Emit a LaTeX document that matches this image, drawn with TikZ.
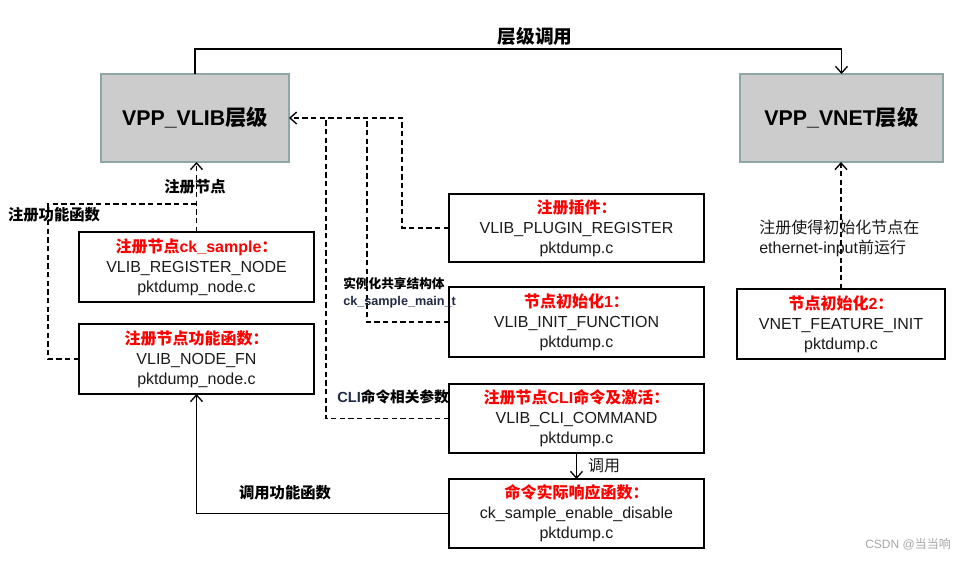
\documentclass[tikz,border=0pt]{standalone}
\usepackage{fontspec}
\setmainfont{Liberation Sans}
\newfontfamily\cjk{Noto Sans CJK SC}
\newcommand\zh[1]{{\cjk #1}}
\usetikzlibrary{arrows.meta}
\definecolor{boxgray}{HTML}{CCCCCC}
\definecolor{boxedge}{HTML}{8FA6A6}
\definecolor{txt}{HTML}{1A1A1A}
\definecolor{navy}{HTML}{1F2A44}
\begin{document}
\begin{tikzpicture}[x=0.75pt,y=-0.75pt,
  layer/.style={draw=boxedge,fill=boxgray,line width=1.5pt,inner sep=0pt,outer sep=0pt,
     font=\fontsize{16}{18}\selectfont\bfseries,text=black},
  info/.style={draw=black,line width=1.6pt,inner sep=0pt,outer sep=0pt,align=center,
     font=\fontsize{12}{15}\selectfont,text=txt},
  dsh/.style={dashed,dash pattern=on 4pt off 2.5pt,line width=1.25pt},
  sol/.style={line width=1.1pt},
  tip/.style={-{Straight Barb[length=5pt,width=9pt,line width=1pt]}},
  lbl/.style={font=\fontsize{11.5}{14}\selectfont\bfseries,inner sep=0pt},
]
\useasboundingbox (0,0) rectangle (973,561);
\newcommand\red[1]{{\color{red}\bfseries #1}}

% layer boxes
\node[layer,minimum width=188*0.75pt,minimum height=88*0.75pt] (vlib) at (195,118) {VPP\_VLIB\zh{层级}};
\node[layer,minimum width=203*0.75pt,minimum height=88*0.75pt] (vnet) at (841.5,118) {VPP\_VNET\zh{层级}};

% info boxes
\node[info,minimum width=235*0.75pt,minimum height=70*0.75pt] (reg) at (196.5,267)
  {\red{\zh{注册节点}ck\_sample\zh{：}}\\VLIB\_REGISTER\_NODE\\pktdump\_node.c};
\node[info,minimum width=235*0.75pt,minimum height=70*0.75pt] (fn) at (196.5,359)
  {\red{\zh{注册节点功能函数：}}\\VLIB\_NODE\_FN\\pktdump\_node.c};
\node[info,minimum width=255*0.75pt,minimum height=68*0.75pt] (plug) at (576.5,228)
  {\red{\zh{注册插件：}}\\VLIB\_PLUGIN\_REGISTER\\pktdump.c};
\node[info,minimum width=255*0.75pt,minimum height=70*0.75pt] (init1) at (576.5,322)
  {\red{\zh{节点初始化}1\zh{：}}\\VLIB\_INIT\_FUNCTION\\pktdump.c};
\node[info,minimum width=255*0.75pt,minimum height=69*0.75pt] (cli) at (576.5,418.5)
  {\red{\zh{注册节点}CLI\zh{命令及激活：}}\\VLIB\_CLI\_COMMAND\\pktdump.c};
\node[info,minimum width=255*0.75pt,minimum height=69*0.75pt] (cmd) at (576.5,513.5)
  {\red{\zh{命令实际响应函数：}}\\ck\_sample\_enable\_disable\\pktdump.c};
\node[info,minimum width=208*0.75pt,minimum height=70*0.75pt] (init2) at (841,324)
  {\red{\zh{节点初始化}2\zh{：}}\\VNET\_FEATURE\_INIT\\pktdump.c};

% junction coordinates
\coordinate (jreg) at (196.5,204);
\coordinate (jcli) at (326,118);
\coordinate (jinit) at (367,118);
\coordinate (jtop) at (841.5,49);

% top solid connector
\draw[sol,tip] (vlib.north) |- (jtop) -- (vnet.north);
\node[font=\fontsize{14}{16}\selectfont\bfseries] (ltop) at (535,36) {\zh{层级调用}};

% register node
\draw[dsh,tip] (reg.north) -- (reg.north |- vlib.south);
\draw[dsh] (fn.west) -| (48,204) -- (jreg);
\node[lbl] (lreg) at (195,187) {\zh{注册节点}};
\node[lbl] (lfn) at (54,215) {\zh{注册功能函数}};

% plugin / init / cli to vlib
\draw[dsh,tip] (plug.west) -| (402,118) -- (vlib.east);
\draw[dsh] (init1.west) -| (jinit);
\draw[dsh] (cli.west) -| (jcli);
\node[anchor=west,align=left,inner sep=0pt,font=\fontsize{9.5}{12.5}\selectfont\bfseries] (linit) at (343,293)
  {\zh{实例化共享结构体}\\\textcolor{navy}{ck\_sample\_main\_t}};
\node[lbl,anchor=west,font=\fontsize{11}{13}\selectfont\bfseries] (lcli) at (337,397) {\textcolor{navy}{CLI}\zh{命令相关参数}};

% vnet feature
\draw[dsh,tip] (init2.north) -- (init2.north |- vnet.south);
\node[anchor=west,align=left,inner sep=0pt,font=\fontsize{12}{15}\selectfont,text=txt] (lvnet) at (759,238)
  {\zh{注册使得初始化节点在}\\ethernet-input\zh{前运行}};

% call
\draw[sol,tip] (cli.south) -- (cmd.north);
\node[inner sep=0pt,font=\fontsize{12}{15}\selectfont,text=txt] (lcall) at (604,466) {\zh{调用}};
\draw[sol,tip] (cmd.west) -| (fn.south);
\node[lbl] (lfunc) at (285,493) {\zh{调用功能函数}};

% watermark
\node[inner sep=0pt,font=\fontsize{9}{11}\selectfont,text=gray!70] (wm) at (908,544) {CSDN @\zh{当当响}};
\end{tikzpicture}
\end{document}
